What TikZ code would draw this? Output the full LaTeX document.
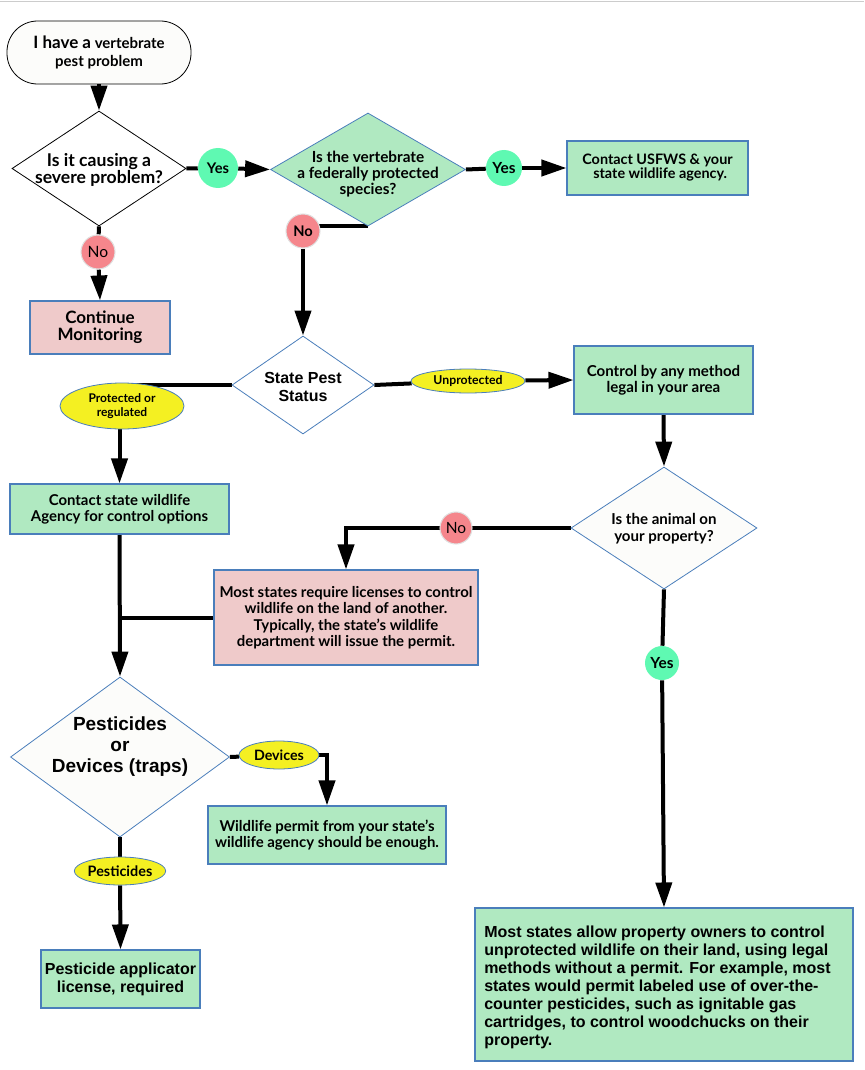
\documentclass[tikz,border=0pt]{standalone}
\usepackage{fontspec}
\setmainfont{Lato}
\newfontfamily\arialfont{Liberation Sans}
\usetikzlibrary{shapes.geometric,arrows.meta,backgrounds}

\definecolor{boxgreen}{RGB}{176,233,193}
\definecolor{boxpink}{RGB}{239,202,202}
\definecolor{edgeblue}{RGB}{74,126,187}
\definecolor{yesmint}{RGB}{95,249,178}
\definecolor{nored}{RGB}{245,134,140}
\definecolor{tagyellow}{RGB}{244,240,34}
\definecolor{offwhite}{RGB}{252,252,250}

\begin{document}
\begin{tikzpicture}[x=0.75pt,y=0.75pt,yscale=-1,xscale=1,
  every node/.style={inner sep=0pt,font=\bfseries,align=center},
  decision/.style={diamond,draw=edgeblue,fill=offwhite,line width=0.6pt},
  greenbox/.style={rectangle,draw=edgeblue,fill=boxgreen,line width=0.8pt},
  pinkbox/.style={rectangle,draw=edgeblue,fill=boxpink,line width=0.8pt},
  yesdot/.style={circle,fill=yesmint,minimum size=#1},
  nodot/.style={circle,fill=nored,draw=black!12,line width=0.8pt,minimum size=#1},
  tag/.style={ellipse,draw=edgeblue,fill=tagyellow,line width=0.6pt},
  link/.style={line width=3pt},
  flow/.style={line width=3pt,-{Triangle[length=18.75pt,width=12pt]}}
]
\useasboundingbox (0,0) rectangle (864,1070);
\draw [black!20] (0,0.8) -- (864,0.8);

%Shape: Start
\node [rectangle,rounded corners=23pt,draw=black,fill=offwhite,line width=0.6pt,minimum width=138pt,minimum height=47.25pt,
  font=\bfseries\fontsize{11.25}{13.5}\selectfont] (start) at (99,52.5)
  {{\fontsize{12.75}{13.5}\selectfont I have a} vertebrate\\ pest problem};
%Shape: Diamond 1
\node [decision,draw=black,fill=white,minimum width=130.5pt,minimum height=86.25pt] (severe) at (99,168.5) {};
% Text Node
\node [font=\bfseries\fontsize{13.2}{12.75}\selectfont] (severetext) at (99,169.5) {Is it causing a\\ severe problem?};
\node [yesdot=30pt,font=\bfseries\fontsize{11}{12}\selectfont] (yesA) at (218,168) {Yes};
\node [nodot=25.5pt,font=\fontsize{11.7}{12}\selectfont] (noA) at (98,252) {No};
\node [pinkbox,minimum width=105pt,minimum height=39.75pt,font=\bfseries\fontsize{12.75}{12.75}\selectfont] (monitor) at (100,327.5)
  {Continue\\ Monitoring};

%Shape: Diamond 2
\node [decision,fill=boxgreen,minimum width=146.25pt,minimum height=84.75pt] (federal) at (368,169.5) {};
% Text Node
\node [font=\bfseries\fontsize{11.5}{12}\selectfont] (federaltext) at (368,174) {Is the vertebrate\\ a federally protected\\ species?};
\node [yesdot=27pt,font=\bfseries\fontsize{11.5}{12}\selectfont] (yesB) at (504,168) {Yes};
\node [greenbox,minimum width=135.75pt,minimum height=40.5pt,font=\bfseries\fontsize{10.8}{10.5}\selectfont] (usfws) at (657.5,168)
  {Contact USFWS \& your\\ \hspace*{4pt}state wildlife agency.};
\node [nodot=25.5pt,font=\bfseries\fontsize{11}{12}\selectfont] (noB) at (303,231) {No};

%Shape: State status
\node [decision,fill=white,minimum width=106.5pt,minimum height=73.5pt] (status) at (303,385) {};
% Text Node
\node [font=\arialfont\bfseries\fontsize{12}{13.5}\selectfont] (statustext) at (303,387) {State Pest\\ Status};
\node [tag,minimum width=93pt,minimum height=34.5pt,font=\bfseries\fontsize{9}{11}\selectfont] (prot) at (122,406)
  {Protected or\\ regulated};
\node [tag,minimum width=85.5pt,minimum height=18pt,font=\bfseries\fontsize{9.2}{10}\selectfont] (unprot) at (468,381)
  {Unprotected};
\node [greenbox,minimum width=134.25pt,minimum height=51pt,font=\bfseries\fontsize{11.3}{12}\selectfont] (anymethod) at (663.5,380)
  {Control by any method\\ legal in your area};
\node [greenbox,minimum width=164.25pt,minimum height=37.5pt,font=\bfseries\fontsize{11.2}{12}\selectfont] (agency) at (119.5,509)
  {Contact state wildlife\\ Agency for control options};

%Shape: Diamond 3
\node [decision,minimum width=139.5pt,minimum height=91.5pt] (property) at (664,528) {};
% Text Node
\node [font=\bfseries\fontsize{11.3}{12.4}\selectfont] (propertytext) at (664,528.5) {Is the animal on\\ your property?};
\node [nodot=24pt,font=\fontsize{11.6}{12}\selectfont] (noC) at (456,528) {No};
\node [pinkbox,minimum width=198pt,minimum height=71.25pt,font=\bfseries\fontsize{11.2}{12.4}\selectfont] (licence) at (346,617.5)
  {Most states require licenses to control\\ wildlife on the land of another.\\ Typically, the state’s wildlife\\ department will issue the permit.};
\node [yesdot=25.5pt,font=\bfseries\fontsize{11.5}{12}\selectfont] (yesC) at (662,663) {Yes};

%Shape: Diamond 4
\node [decision,minimum width=164.25pt,minimum height=120pt] (method) at (120,757) {};
% Text Node
\node [font=\arialfont\bfseries\fontsize{14.25}{16}\selectfont] (methodtext) at (120,746.5) {Pesticides\\ or\\ Devices (traps)};
\node [tag,minimum width=60pt,minimum height=21pt,font=\bfseries\fontsize{10.7}{11}\selectfont] (devices) at (279,755)
  {Devices};
\node [greenbox,minimum width=178.5pt,minimum height=43.5pt,font=\bfseries\fontsize{11.2}{12}\selectfont] (permit) at (327,835)
  {Wildlife permit from your state’s\\ wildlife agency should be enough.};
\node [tag,minimum width=64.5pt,minimum height=21pt,font=\bfseries\fontsize{10.8}{11}\selectfont] (pesttag) at (120,871)
  {Pesticides};
\node [greenbox,minimum width=119.25pt,minimum height=43.5pt,font=\arialfont\bfseries\fontsize{12}{13.5}\selectfont] (applicator) at (120.5,979)
  {Pesticide applicator\\ license, required};
\node [greenbox,minimum width=283.5pt,minimum height=114.75pt] (owners) at (664,984.5) {};
% Text Node
\node [anchor=north west,align=left,font=\arialfont\bfseries\fontsize{12}{13.5}\selectfont] (ownerstext) at (484,926)
  {Most states allow property owners to control\\
  unprotected wildlife on their land, using legal\\
  methods without a permit. For example, most\\
  states would permit labeled use of over-the-\\
  counter pesticides, such as ignitable gas\\
  cartridges, to control woodchucks on their\\
  property.};

% Connectors
\begin{scope}[on background layer]
\draw [flow] (start) -- (severe);
\draw [link] (severe.east) -- (yesA);
\draw [flow] (yesA) -- (federal.west);
\draw [link] (federal.east) -- (yesB);
\draw [flow] (yesB) -- (usfws.west);
\draw [link] (severe.south) -- (noA);
\draw [flow] (noA) -- (monitor.north);
\draw [link] (federal.south) -- (federal.south -| noB);
\draw [flow] (noB) -- (status.north);
\draw [link] (status.west) -- (status.west -| agency.north);
\draw [flow] (agency.north |- prot.south) -- (agency.north);
\draw [link] (status.east) -- (unprot);
\draw [flow] (unprot) -- (anymethod.west);
\draw [flow] (anymethod.south) -- (property.north);
\draw [flow] (property.west) -| (licence.north);
\draw [link] (licence.west) -- (licence.west -| agency.south);
\draw [flow] (agency.south) -- (method.north);
\draw [link] (method.east) -- (devices);
\draw [flow] (devices.east) -| (permit.north);
\draw [link] (method.south) -- (pesttag);
\draw [flow] (pesttag) -- (applicator.north);
\draw [link] (property.south) -- (yesC);
\draw [flow] (yesC) -- (owners.north);
\end{scope}

\end{tikzpicture}
\end{document}
